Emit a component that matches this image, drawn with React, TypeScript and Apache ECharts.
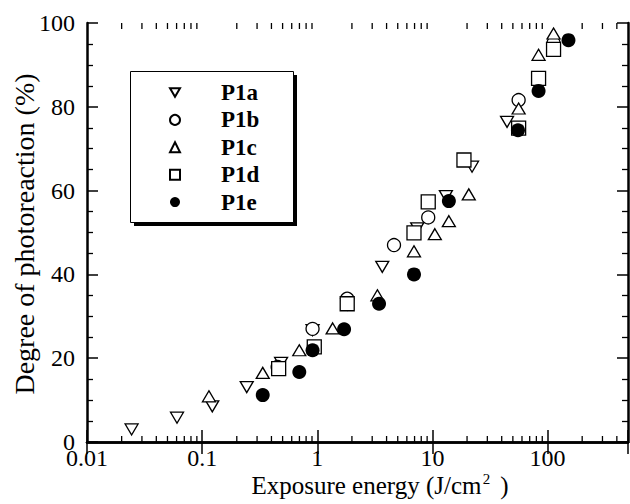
import React, { useEffect, useRef } from "react";
import * as echarts from "echarts";

const FONT = "Liberation Serif";

const seriesNames = ["P1a", "P1b", "P1c", "P1d", "P1e"];

const p1aX = [0.0244, 0.0605, 0.1225, 0.244, 0.485, 0.91, 1.82, 3.67, 7.38, 13.1, 22.1, 44.5];
const p1aY = [3.0, 5.8, 8.5, 13.1, 18.9, 26.7, 32.8, 41.8, 51.0, 58.7, 65.7, 76.4];

const p1bX = [0.453, 0.91, 1.82, 4.64, 9.2, 56.1, 112.8];
const p1bY = [17.9, 27.0, 34.2, 47.0, 53.6, 81.6, 95.2];

const p1cX = [0.1146, 0.336, 0.698, 1.36, 3.33, 6.92, 10.5, 13.9, 20.7, 56.1, 83.6, 112.8];
const p1cY = [10.9, 16.5, 21.9, 27.1, 35.0, 45.5, 49.6, 52.7, 59.1, 79.6, 92.4, 97.5];

const p1dX = [0.462, 0.942, 1.82, 6.92, 9.2, 18.8, 56.1, 83.6, 112.8];
const p1dY = [17.5, 22.7, 33.0, 49.9, 57.3, 67.3, 74.9, 86.8, 93.7];

const p1eX = [0.336, 0.698, 0.91, 1.71, 3.44, 6.92, 13.9, 55.4, 83.6, 152];
const p1eY = [11.2, 16.7, 21.9, 26.9, 33.0, 40.0, 57.5, 74.4, 83.8, 95.9];

const xMin = 0.01;
const xMax = 500;
const yMin = 0;
const yMax = 100;
const yInterval = 20;
const xMajorTicks = [0.01, 0.1, 1, 10, 100];
const xTickLabels = ["0.01", "0.1", "1", "10", "100"];
const yMajorTicks = [0, 20, 40, 60, 80, 100];
const yTickLabels = ["0", "20", "40", "60", "80", "100"];
const xMinorTicks = [
  0.02, 0.03, 0.04, 0.05, 0.06, 0.07, 0.08, 0.09,
  0.2, 0.3, 0.4, 0.5, 0.6, 0.7, 0.8, 0.9,
  2, 3, 4, 5, 6, 7, 8, 9,
  20, 30, 40, 50, 60, 70, 80, 90,
  200, 300, 400,
];

const xTitleMain = "Exposure energy (J/cm";
const xTitleSup = "2";
const xTitleEnd = " )";
const yTitle = "Degree of photoreaction (%)";

const DOWN_TRI = "path://M0,0L10,0L5,8.66Z";

function zip(xs: number[], ys: number[]) {
  return xs.map((x, i) => [x, ys[i]]);
}

export default function App() {
  const ref = useRef<HTMLDivElement>(null);
  useEffect(() => {
    if (!ref.current) return;
    const chart = echarts.init(ref.current, undefined, { renderer: "svg" });
    const open = { color: "#fff", borderColor: "#000", borderWidth: 1.3, opacity: 1 };
    const axisCommonX = {
      type: "log",
      logBase: 10,
      min: xMin,
      max: xMax,
      splitLine: { show: false },
      axisLabel: { show: false },
      axisLine: { show: true, lineStyle: { color: "#000", width: 2.5 } },
      axisTick: { show: true, inside: true, length: 12, lineStyle: { color: "#000", width: 1.5 } },
    };
    const axisCommonY = {
      type: "value",
      min: yMin,
      max: yMax,
      interval: yInterval,
      splitLine: { show: false },
      axisLabel: { show: false },
      axisLine: { show: true, lineStyle: { color: "#000", width: 2.5 } },
      axisTick: { show: true, inside: true, length: 11, lineStyle: { color: "#000", width: 1.5 } },
      minorTick: { show: true, splitNumber: 4, length: 6, lineStyle: { color: "#000", width: 1.3 } },
    };
    chart.setOption({
      animation: false,
      backgroundColor: "#fff",
      textStyle: { fontFamily: FONT },
      grid: { left: 87, right: 2, top: 23, bottom: 62, containLabel: false },
      xAxis: [
        { ...axisCommonX, position: "bottom" },
        { ...axisCommonX, position: "top" },
      ],
      yAxis: [
        { ...axisCommonY, position: "left" },
        { ...axisCommonY, position: "right" },
      ],
      legend: {
        show: true,
        orient: "vertical",
        left: 169,
        top: 81,
        padding: 0,
        itemWidth: 10,
        itemHeight: 10,
        itemGap: 4.4,
        selectedMode: false,
        z: 10,
        textStyle: {
          fontFamily: FONT,
          fontSize: 23,
          fontWeight: "bold",
          color: "#000",
          lineHeight: 20,
          padding: [0, 0, 0, 36],
        },
        data: [
          { name: "P1a", icon: DOWN_TRI },
          { name: "P1b", icon: "circle" },
          { name: "P1c", icon: "triangle" },
          { name: "P1d", icon: "rect" },
          { name: "P1e", icon: "circle" },
        ],
      },
      graphic: [
        { type: "rect", z: 0, shape: { x: 134, y: 75, width: 163, height: 151 }, style: { fill: "#000" } },
        { type: "rect", z: 1, shape: { x: 130.5, y: 71.5, width: 163, height: 151 }, style: { fill: "#fff", stroke: "#000", lineWidth: 1 } },
        {
          type: "text",
          z: 5,
          x: 380,
          y: 485,
          scaleX: 1.25,
          scaleY: 1.25,
          style: {
            text: "{t|" + xTitleMain + "}{s|" + xTitleSup + "}{t|" + xTitleEnd + "}",
            align: "center",
            verticalAlign: "middle",
            rich: {
              t: { fontFamily: FONT, fontSize: 20, fill: "#000", lineHeight: 21 },
              s: { fontFamily: FONT, fontSize: 12, fill: "#000", verticalAlign: "top", lineHeight: 21, padding: [0, 3, 0, 1] },
            },
          },
        },
        {
          type: "text",
          z: 5,
          x: 24,
          y: 234,
          rotation: Math.PI / 2,
          scaleX: 1.4,
          scaleY: 1.4,
          style: {
            text: yTitle,
            fontFamily: FONT,
            fontSize: 20,
            fill: "#000",
            align: "center",
            verticalAlign: "middle",
          },
        },
      ],
      series: [
        {
          type: "custom",
          name: "minorTicks",
          xAxisIndex: 0,
          yAxisIndex: 0,
          silent: true,
          clip: false,
          data: xMinorTicks.map((v) => [v, 0]),
          encode: { x: 0, y: 1 },
          renderItem: (params: any, api: any) => {
            const v = api.value(0);
            const b = api.coord([v, yMin]);
            const t = api.coord([v, yMax]);
            const st = { stroke: "#000", lineWidth: 1.3 };
            return {
              type: "group",
              children: [
                { type: "line", shape: { x1: b[0], y1: b[1], x2: b[0], y2: b[1] - 6 }, style: st },
                { type: "line", shape: { x1: t[0], y1: t[1], x2: t[0], y2: t[1] + 6 }, style: st },
              ],
            };
          },
        },
        {
          type: "custom",
          name: "xTickLabels",
          xAxisIndex: 0,
          yAxisIndex: 0,
          silent: true,
          clip: false,
          data: xMajorTicks.map((v, i) => [v, yMin, i]),
          encode: { x: 0, y: 1 },
          renderItem: (params: any, api: any) => {
            const p = api.coord([api.value(0), api.value(1)]);
            return {
              type: "text",
              x: p[0],
              y: p[1] + 16,
              scaleX: 1.2,
              scaleY: 1.2,
              style: {
                text: xTickLabels[api.value(2)],
                fontFamily: FONT,
                fontSize: 20,
                fill: "#000",
                align: "center",
                verticalAlign: "middle",
              },
            };
          },
        },
        {
          type: "custom",
          name: "yTickLabels",
          xAxisIndex: 0,
          yAxisIndex: 0,
          silent: true,
          clip: false,
          data: yMajorTicks.map((v, i) => [xMin, v, i]),
          encode: { x: 0, y: 1 },
          renderItem: (params: any, api: any) => {
            const p = api.coord([api.value(0), api.value(1)]);
            return {
              type: "text",
              x: p[0] - 12,
              y: p[1],
              scaleX: 1.2,
              scaleY: 1.2,
              style: {
                text: yTickLabels[api.value(2)],
                fontFamily: FONT,
                fontSize: 20,
                fill: "#000",
                align: "right",
                verticalAlign: "middle",
              },
            };
          },
        },
        { type: "scatter", name: seriesNames[0], data: zip(p1aX, p1aY), symbol: DOWN_TRI, symbolSize: [13, 11], itemStyle: open },
        { type: "scatter", name: seriesNames[1], data: zip(p1bX, p1bY), symbol: "circle", symbolSize: 13, itemStyle: open },
        { type: "scatter", name: seriesNames[2], data: zip(p1cX, p1cY), symbol: "triangle", symbolSize: [13, 11], itemStyle: open },
        { type: "scatter", name: seriesNames[3], data: zip(p1dX, p1dY), symbol: "rect", symbolSize: 14, itemStyle: open },
        { type: "scatter", name: seriesNames[4], data: zip(p1eX, p1eY), symbol: "circle", symbolSize: 14, itemStyle: { color: "#000", borderColor: "#000", borderWidth: 0, opacity: 1 } },
      ],
    });
    return () => chart.dispose();
  }, []);
  return (
    <div
      ref={ref}
      style={{ position: "fixed", left: 0, top: 0, width: 630, height: 504, background: "#fff" }}
    />
  );
}
